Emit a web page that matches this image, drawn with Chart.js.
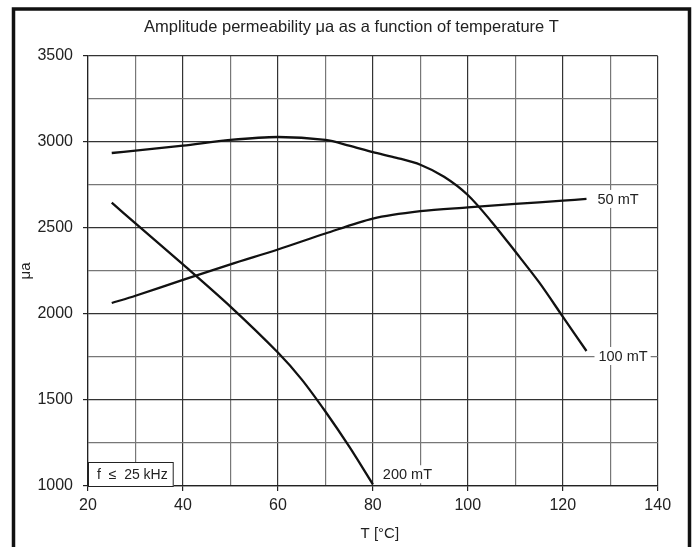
<!DOCTYPE html>
<html>
<head>
<meta charset="utf-8">
<script src="https://cdn.jsdelivr.net/npm/chart.js@4.4.1/dist/chart.umd.min.js"></script>
<style>
  body { margin: 0; background: #fff; }
  #wrap { width: 697px; height: 547px; }
</style>
</head>
<body>
<div id="wrap"><canvas id="myChart" width="697" height="547"></canvas></div>
<script>
// temperature points (°C) and amplitude permeability
const temp50 = [25, 30, 40, 50, 60, 70, 80, 90, 100, 110, 120, 125];
const mu50 = [2064, 2106, 2198, 2289, 2375, 2468, 2555, 2598, 2620, 2640, 2659, 2669];

const temp100 = [25, 30, 40, 50, 60, 70, 75, 80, 85, 90, 95, 100, 105, 110, 115, 120, 125];
const mu100 = [2936, 2950, 2979, 3012, 3029, 3012, 2979, 2941, 2908, 2868, 2798, 2692, 2537, 2363, 2185, 1985, 1785];

const temp200 = [25, 30, 40, 50, 60, 65, 70, 75, 80];
const mu200 = [2647, 2527, 2288, 2043, 1776, 1620, 1433, 1230, 1010];

const seriesNames = ['50 mT', '100 mT', '200 mT'];
const xTickLabels = [20, 40, 60, 80, 100, 120, 140];
const yTickLabels = [1000, 1500, 2000, 2500, 3000, 3500];
const chartTitle = 'Amplitude permeability \u03bca as a function of temperature T';
const xTitle = 'T [\u00b0C]';

const FONT = 'Liberation Sans, Arial, sans-serif';

function toPoints(xs, ys) {
    const pts = [];
    for (let i = 0; i < xs.length; i++) {
        pts.push({ x: xs[i], y: ys[i] });
    }
    return pts;
}

function lineSet(name, xs, ys) {
    return {
        label: name,
        data: toPoints(xs, ys),
        borderColor: '#111',
        borderWidth: 2.3,
        pointRadius: 0,
        fill: false,
        tension: 0.3
    };
}

// where the curve names sit, relative to the last point of each curve
const endLabels = [
    { ds: 0, dx: 11, dy: 0 },
    { ds: 1, dx: 12, dy: 5 },
    { ds: 2, dx: 10, dy: -10 }
];

const curveLabels = {
    id: 'curveLabels',
    afterDatasetsDraw(chart) {
        const ctx = chart.ctx;
        ctx.save();
        ctx.font = '14.5px ' + FONT;
        ctx.textBaseline = 'middle';
        ctx.textAlign = 'left';
        endLabels.forEach(l => {
            const meta = chart.getDatasetMeta(l.ds);
            const last = meta.data[meta.data.length - 1];
            const tx = last.x + l.dx;
            const ty = last.y + l.dy;
            const text = seriesNames[l.ds];
            const w = ctx.measureText(text).width;
            ctx.fillStyle = '#fff';
            ctx.fillRect(tx - 4, ty - 9, w + 7, 18);
            ctx.fillStyle = '#222';
            ctx.fillText(text, tx, ty + 1);
        });

        // frequency note in the lower left corner
        const a = chart.chartArea;
        ctx.font = '14px ' + FONT;
        const note = 'f  \u2264  25 kHz';
        const nw = ctx.measureText(note).width;
        ctx.fillStyle = '#fff';
        ctx.fillRect(a.left, a.bottom - 24, nw + 15, 24);
        ctx.strokeStyle = '#222';
        ctx.lineWidth = 1;
        ctx.strokeRect(a.left + 0.5, a.bottom - 23.5, nw + 14, 24);
        ctx.fillStyle = '#222';
        ctx.fillText(note, a.left + 9, a.bottom - 11);
        ctx.restore();
    },
    afterDraw(chart) {
        const ctx = chart.ctx;
        const a = chart.chartArea;
        ctx.save();
        // thick outer frame, cut off at the bottom
        ctx.strokeStyle = '#111';
        ctx.lineWidth = 3.5;
        ctx.beginPath();
        ctx.moveTo(13.5, 560);
        ctx.lineTo(13.5, 9);
        ctx.lineTo(689.5, 9);
        ctx.lineTo(689.5, 560);
        ctx.stroke();

        // title centred in the frame, x axis title under the plot
        ctx.fillStyle = '#222';
        ctx.textAlign = 'center';
        ctx.textBaseline = 'middle';
        ctx.font = '16.5px ' + FONT;
        ctx.fillText(chartTitle, (13.5 + 689.5) / 2, 27);
        ctx.font = '15px ' + FONT;
        ctx.fillText(xTitle, (a.left + a.right) / 2 + 7, 534);
        ctx.restore();
    }
};

const ctx = document.getElementById('myChart').getContext('2d');
const myChart = new Chart(ctx, {
    type: 'line',
    data: {
        datasets: [
            lineSet(seriesNames[0], temp50, mu50),
            lineSet(seriesNames[1], temp100, mu100),
            lineSet(seriesNames[2], temp200, mu200)
        ]
    },
    options: {
        responsive: false,
        animation: false,
        layout: { padding: { left: 0, right: 39.3, top: 56, bottom: 0 } },
        plugins: {
            legend: { display: false },
            tooltip: { enabled: false },
            title: { display: false }
        },
        scales: {
            x: {
                type: 'linear',
                min: 20,
                max: 140,
                afterFit: s => { s.height = 61; },
                ticks: {
                    stepSize: 10,
                    autoSkip: false,
                    maxRotation: 0,
                    padding: 5,
                    color: '#222',
                    font: { family: FONT, size: 16 },
                    callback: v => xTickLabels.includes(v) ? v : ''
                },
                grid: {
                    lineWidth: 1.2,
                    tickLength: 5,
                    color: c => (c.tick && c.tick.value % 20 === 0) ? '#333' : '#777',
                    tickColor: c => (c.tick && xTickLabels.includes(c.tick.value)) ? '#222' : 'rgba(0,0,0,0)'
                },
                border: { color: '#222', width: 1.2 }
            },
            y: {
                min: 1000,
                max: 3500,
                afterFit: s => { s.width = 88; },
                ticks: {
                    stepSize: 250,
                    padding: 10,
                    color: '#222',
                    font: { family: FONT, size: 16 },
                    callback: v => yTickLabels.includes(v) ? v : ''
                },
                grid: {
                    lineWidth: 1.2,
                    tickLength: 5,
                    color: c => (c.tick && c.tick.value % 500 === 0) ? '#333' : '#777',
                    tickColor: c => (c.tick && yTickLabels.includes(c.tick.value)) ? '#222' : 'rgba(0,0,0,0)'
                },
                border: { color: '#222', width: 1.2 },
                title: {
                    display: true,
                    text: '\u03bca',
                    color: '#222',
                    font: { family: FONT, size: 15 },
                    padding: { top: 16.5, bottom: 0 }
                }
            }
        }
    },
    plugins: [curveLabels]
});
</script>
</body>
</html>
